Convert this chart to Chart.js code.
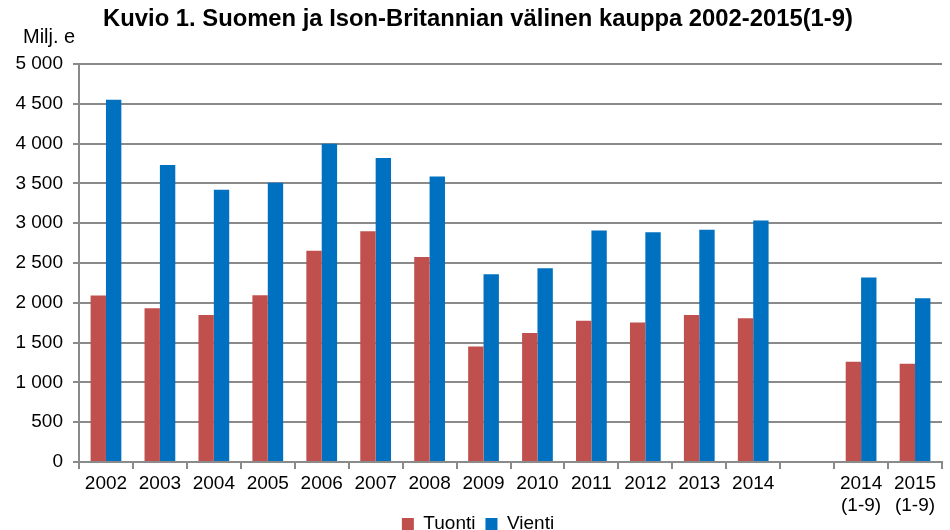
<!DOCTYPE html>
<html>
<head>
<meta charset="utf-8">
<script src="https://cdn.jsdelivr.net/npm/chart.js@4.4.1/dist/chart.umd.min.js"></script>
<style>
  html, body { margin: 0; padding: 0; background: #ffffff; }
  #wrap { width: 950px; height: 530px; position: relative; }
</style>
</head>
<body>
<div id="wrap"><canvas id="c" width="950" height="530"></canvas></div>
<script>
const titleText = 'Kuvio 1. Suomen ja Ison-Britannian välinen kauppa 2002-2015(1-9)';
const unitLabel = 'Milj. e';
const categories = ['2002','2003','2004','2005','2006','2007','2008','2009','2010','2011','2012','2013','2014','',['2014','(1-9)'],['2015','(1-9)']];
const tuonti = [2090,1930,1845,2095,2655,2900,2575,1450,1622,1773,1752,1848,1806,null,1260,1235];
const vienti = [4550,3732,3420,3508,3998,3820,3585,2357,2433,2907,2886,2916,3034,null,2319,2057];
const yTicks = [0,500,1000,1500,2000,2500,3000,3500,4000,4500,5000];

const FONT = '"Liberation Sans", Arial, sans-serif';
const GRID = '#8a8a8a';

const unitPlugin = {
  id: 'unitLabel',
  afterLayout(chart) {
    // let the two-line category labels extend below the axis box without clipping
    chart.scales.x.bottom = chart.height;
  },
  afterDraw(chart) {
    const ctx = chart.ctx;
    ctx.save();
    ctx.font = '20px ' + FONT;
    ctx.fillStyle = '#000';
    ctx.textAlign = 'left';
    ctx.textBaseline = 'middle';
    ctx.fillText(unitLabel, 23, 37);
    ctx.restore();
  }
};

new Chart(document.getElementById('c'), {
  type: 'bar',
  data: {
    labels: categories,
    datasets: [
      { label: 'Tuonti', data: tuonti, backgroundColor: '#C0504D', borderWidth: 0 },
      { label: 'Vienti', data: vienti, backgroundColor: '#0070C0', borderWidth: 0 }
    ]
  },
  options: {
    responsive: false,
    animation: false,
    devicePixelRatio: 1,
    layout: { padding: { left: 14, right: 8, top: 0, bottom: -13.5 } },
    datasets: { bar: { categoryPercentage: 0.57, barPercentage: 1.0 } },
    plugins: {
      title: {
        display: true,
        text: titleText,
        color: '#000',
        font: { family: FONT, size: 23.8, weight: 'bold', lineHeight: 1.2 },
        padding: { top: 5, bottom: 30.4 }
      },
      legend: {
        display: true,
        position: 'bottom',
        labels: {
          color: '#000',
          font: { family: FONT, size: 19 },
          boxWidth: 12,
          boxHeight: 12,
          padding: 10
        }
      },
      tooltip: { enabled: false }
    },
    scales: {
      x: {
        offset: true,
        grid: {
          display: true,
          drawOnChartArea: false,
          drawTicks: true,
          tickLength: 7,
          color: GRID,
          lineWidth: 2,
          offset: true
        },
        border: { display: true, color: GRID, width: 2 },
        ticks: {
          color: '#000',
          font: { family: FONT, size: 19, lineHeight: 1.15 },
          padding: 4,
          maxRotation: 0,
          autoSkip: false
        },
        afterFit(scale) { scale.height = 42.5; }
      },
      y: {
        min: 0,
        max: 5000,
        afterBuildTicks(scale) { scale.ticks = yTicks.map(v => ({ value: v })); },
        grid: {
          color: GRID,
          lineWidth: 2,
          drawTicks: true,
          tickLength: 6
        },
        border: { display: true, color: GRID, width: 2 },
        ticks: {
          color: '#000',
          font: { family: FONT, size: 19 },
          padding: 10,
          callback(v) { return String(v).replace(/\B(?=(\d{3})+(?!\d))/g, ' '); }
        },
        afterFit(scale) { scale.width = 65; }
      }
    }
  },
  plugins: [unitPlugin]
});
</script>
</body>
</html>
